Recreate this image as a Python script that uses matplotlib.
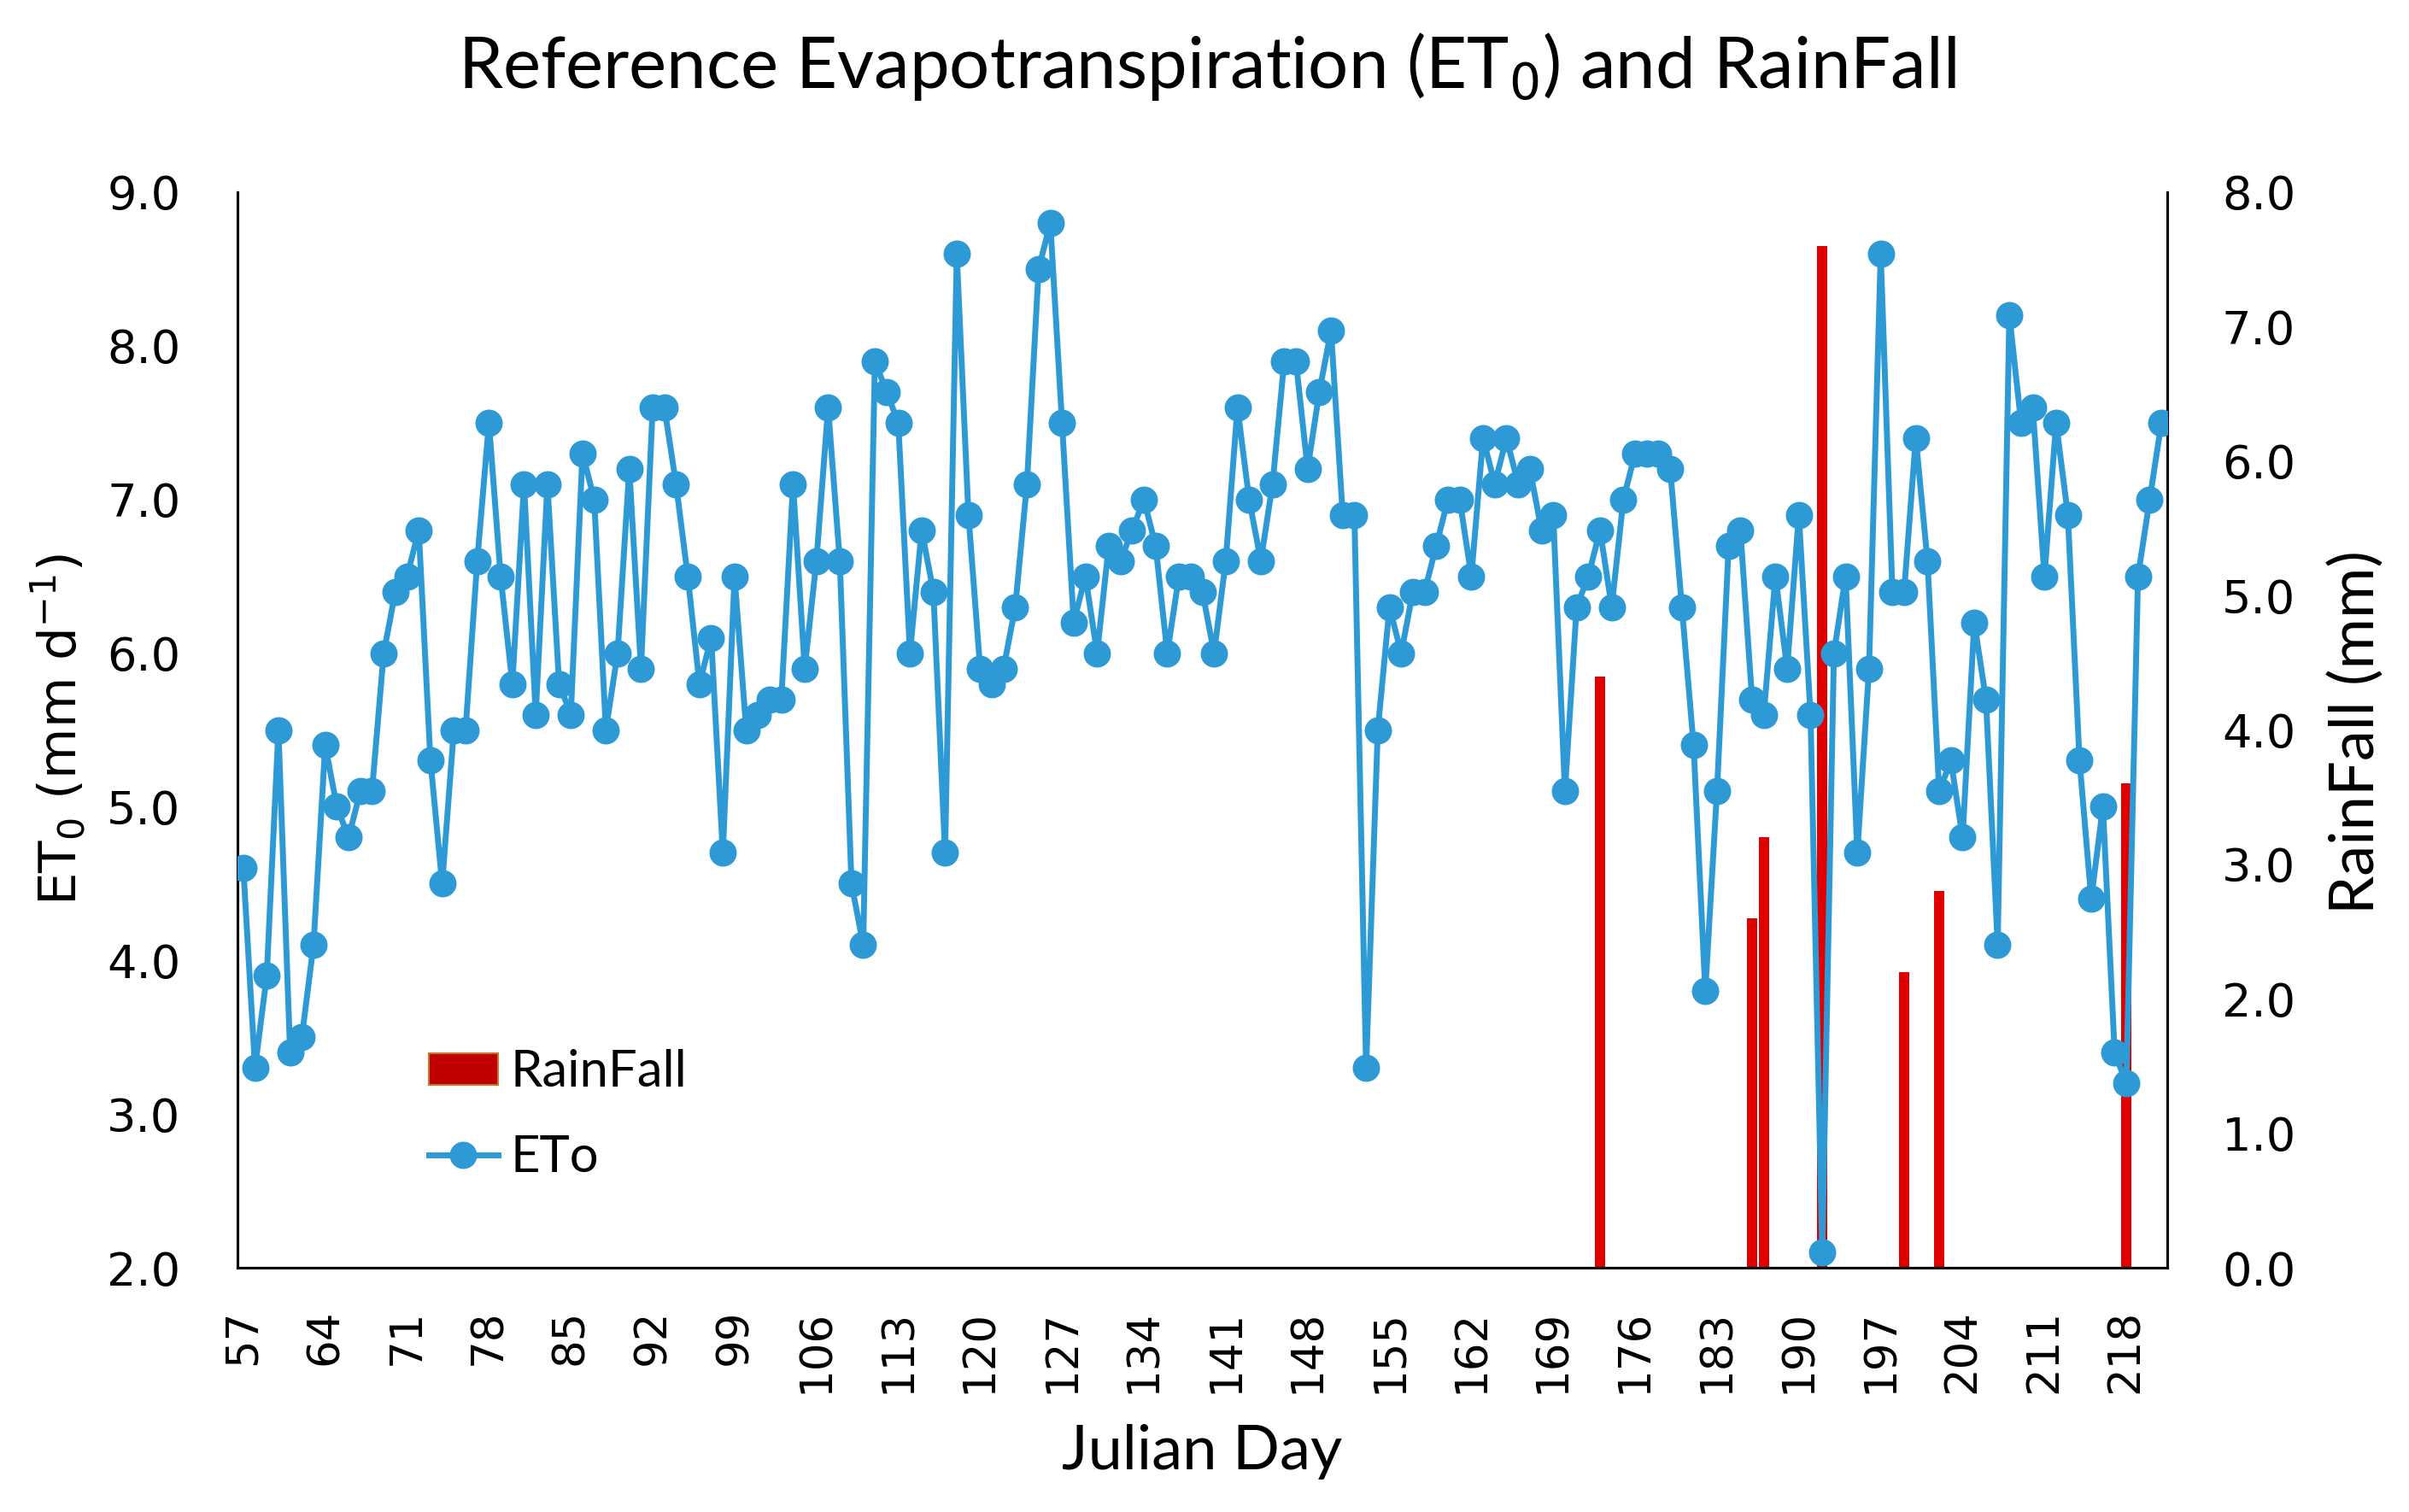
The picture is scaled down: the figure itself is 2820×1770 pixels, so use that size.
import matplotlib
matplotlib.use('Agg')
import matplotlib.pyplot as plt
from matplotlib.patches import Patch
from matplotlib.lines import Line2D

# Julian days on the x axis (one category per day)
days = list(range(57, 222))

# Reference evapotranspiration, mm/day
eto = [
    4.6, 3.3, 3.9, 5.5, 3.4, 3.5, 4.1, 5.4, 5.0, 4.8,   # 57-66
    5.1, 5.1, 6.0, 6.4, 6.5, 6.8, 5.3, 4.5, 5.5, 5.5,   # 67-76
    6.6, 7.5, 6.5, 5.8, 7.1, 5.6, 7.1, 5.8, 5.6, 7.3,   # 77-86
    7.0, 5.5, 6.0, 7.2, 5.9, 7.6, 7.6, 7.1, 6.5, 5.8,   # 87-96
    6.1, 4.7, 6.5, 5.5, 5.6, 5.7, 5.7, 7.1, 5.9, 6.6,   # 97-106
    7.6, 6.6, 4.5, 4.1, 7.9, 7.7, 7.5, 6.0, 6.8, 6.4,   # 107-116
    4.7, 8.6, 6.9, 5.9, 5.8, 5.9, 6.3, 7.1, 8.5, 8.8,   # 117-126
    7.5, 6.2, 6.5, 6.0, 6.7, 6.6, 6.8, 7.0, 6.7, 6.0,   # 127-136
    6.5, 6.5, 6.4, 6.0, 6.6, 7.6, 7.0, 6.6, 7.1, 7.9,   # 137-146
    7.9, 7.2, 7.7, 8.1, 6.9, 6.9, 3.3, 5.5, 6.3, 6.0,   # 147-156
    6.4, 6.4, 6.7, 7.0, 7.0, 6.5, 7.4, 7.1, 7.4, 7.1,   # 157-166
    7.2, 6.8, 6.9, 5.1, 6.3, 6.5, 6.8, 6.3, 7.0, 7.3,   # 167-176
    7.3, 7.3, 7.2, 6.3, 5.4, 3.8, 5.1, 6.7, 6.8, 5.7,   # 177-186
    5.6, 6.5, 5.9, 6.9, 5.6, 2.1, 6.0, 6.5, 4.7, 5.9,   # 187-196
    8.6, 6.4, 6.4, 7.4, 6.6, 5.1, 5.3, 4.8, 6.2, 5.7,   # 197-206
    4.1, 8.2, 7.5, 7.6, 6.5, 7.5, 6.9, 5.3, 4.4, 5.0,   # 207-216
    3.4, 3.2, 6.5, 7.0, 7.5,                            # 217-221
]

# Days with rain and amount (mm); all other days are zero
rain_days = [173, 186, 187, 192, 199, 202, 218]
rain_mm   = [4.4, 2.6, 3.2, 7.6, 2.2, 2.8, 3.6]

x_ticks = list(range(57, 222, 7))
et_ticks = [2, 3, 4, 5, 6, 7, 8, 9]
rain_ticks = [0, 1, 2, 3, 4, 5, 6, 7, 8]

BLUE = '#2D9AD6'
RED = '#E10000'
TICK_FONT = 'DejaVu Sans'
LABEL_FONT = 'Lato'

W, H = 2820, 1770
fig = plt.figure(figsize=(W / 100, H / 100), dpi=100)
ax = fig.add_axes([278 / W, 1 - 1484 / H, (2537 - 278) / W, (1484 - 225) / H])
ax2 = ax.twinx()

# bars on the right axis, line on top of them
ax2.bar(rain_days, rain_mm, width=0.9, color=RED, zorder=2)
ax.plot(days, eto, color=BLUE, lw=5, marker='o', ms=22, zorder=3)
ax.set_zorder(ax2.get_zorder() + 1)
ax.patch.set_visible(False)

ax.set_xlim(56.5, 221.5)
ax.set_ylim(2, 9)
ax2.set_ylim(0, 8)

ax.set_xticks(x_ticks)
ax.set_xticklabels([str(d) for d in x_ticks], rotation=90,
                   fontsize=37, family=TICK_FONT)
ax.set_yticks(et_ticks)
ax.set_yticklabels([f'{v:.1f}' for v in et_ticks], fontsize=39, family=TICK_FONT)
ax2.set_yticks(rain_ticks)
ax2.set_yticklabels([f'{v:.1f}' for v in rain_ticks], fontsize=39, family=TICK_FONT)

ax.tick_params(axis='x', length=0, pad=35)
ax.tick_params(axis='y', length=0, pad=48)
ax2.tick_params(axis='y', length=0, pad=46)

for a in (ax, ax2):
    a.spines['top'].set_visible(False)
    for s in ('left', 'right', 'bottom'):
        a.spines[s].set_linewidth(2.2)
        a.spines[s].set_color('black')

# axis titles
fig.text(68 / W, 1 - 854 / H, r'ET$_0$ (mm d$^{-1}$)', rotation=90,
         ha='center', va='center', fontsize=44, family=TICK_FONT)
fig.text(2758 / W, 1 - 857 / H, 'RainFall (mm)', rotation=90,
         ha='center', va='center', fontsize=52, family=LABEL_FONT)
fig.text(1407 / W, 1 - 1700 / H, 'Julian Day',
         ha='center', va='center', fontsize=52, family=LABEL_FONT)
fig.text(1413 / W, 1 - 103 / H, r'Reference Evapotranspiration (ET$_0$) and RainFall',
         ha='center', va='baseline', fontsize=60, family=LABEL_FONT)

handles = [
    Patch(facecolor='#C00000', edgecolor='#C8762E', linewidth=1.5),
    Line2D([], [], color=BLUE, lw=5, marker='o', ms=22),
]
leg = ax.legend(handles, ['RainFall', 'ETo'], loc='center left',
                bbox_to_anchor=(502 / W, 1 - 1305 / H), bbox_transform=fig.transFigure,
                frameon=False, borderpad=0, borderaxespad=0,
                handlelength=1.35, handleheight=0.57, handletextpad=0.25,
                labelspacing=0.76, numpoints=1, prop={'family': LABEL_FONT, 'size': 43})

fig.savefig('out.png', dpi=100)
